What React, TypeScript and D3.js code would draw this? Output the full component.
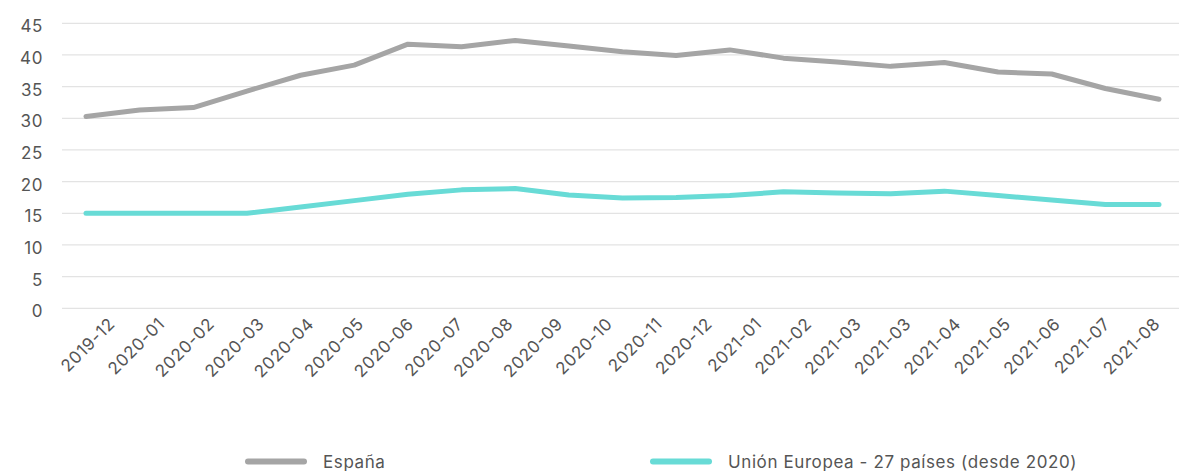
import * as d3 from "d3";

// x-axis labels (as printed on the chart, including the repeated 2021-03)
const labels = [
  "2019-12", "2020-01", "2020-02", "2020-03", "2020-04", "2020-05", "2020-06",
  "2020-07", "2020-08", "2020-09", "2020-10", "2020-11", "2020-12", "2021-01",
  "2021-02", "2021-03", "2021-03", "2021-04", "2021-05", "2021-06", "2021-07",
  "2021-08",
];

// series values (21 points each)
const espana = [
  30.3, 31.3, 31.7, 34.3, 36.8, 38.4, 41.7, 41.3, 42.3, 41.4, 40.5,
  39.9, 40.8, 39.5, 38.9, 38.2, 38.8, 37.3, 37.0, 34.7, 33.0,
];
const ue27 = [
  15.0, 15.0, 15.0, 15.0, 16.0, 17.0, 18.0, 18.7, 18.9, 17.9, 17.4,
  17.5, 17.8, 18.4, 18.2, 18.1, 18.5, 17.8, 17.1, 16.4, 16.4,
];

const yTicks = [0, 5, 10, 15, 20, 25, 30, 35, 40, 45];

const series = [
  { name: "España", values: espana, color: "#a5a5a5" },
  { name: "Unión Europea - 27 países (desde 2020)", values: ue27, color: "#68dbd6" },
];

const W = 1179;
const H = 471;
const font = "Inter, 'Open Sans', sans-serif";

export default function App() {
  const x = d3
    .scalePoint<number>()
    .domain(d3.range(espana.length))
    .range([86, 1159]);

  const xLab = d3
    .scalePoint<number>()
    .domain(d3.range(labels.length))
    .range([116, 1161]);

  const y = d3.scaleLinear().domain([0, 45]).range([308.3, 23.3]);

  const line = d3
    .line<number>()
    .x((_, i) => x(i) ?? 0)
    .y((d) => y(d));

  const legendX = [245, 650];

  return (
    <svg
      width={W}
      height={H}
      style={{ position: "absolute", left: 0, top: 0, background: "#fff" }}
      fontFamily={font}
      letterSpacing={0.6}
    >
      {/* grid + y labels */}
      {yTicks.map((t) => (
        <g key={t}>
          <line x1={62} x2={W} y1={y(t)} y2={y(t)} stroke="#e3e3e3" strokeWidth={1.2} />
          <text x={43} y={y(t) + 9} textAnchor="end" fontSize={17} fill="#555">
            {t}
          </text>
        </g>
      ))}

      {/* x labels */}
      {labels.map((l, i) => (
        <text
          key={i}
          transform={`translate(${xLab(i)},325) rotate(-45)`}
          textAnchor="end"
          fontSize={17}
          fill="#555"
        >
          {l}
        </text>
      ))}

      {/* lines */}
      {series.map((s) => (
        <path
          key={s.name}
          d={line(s.values) ?? ""}
          fill="none"
          stroke={s.color}
          strokeWidth={5}
          strokeLinejoin="round"
          strokeLinecap="round"
        />
      ))}

      {/* legend */}
      {series.map((s, i) => (
        <g key={s.name} transform={`translate(${legendX[i]},461.5)`}>
          <line x1={3} x2={59} y1={0} y2={0} stroke={s.color} strokeWidth={6} strokeLinecap="round" />
          <text x={78} y={6} fontSize={17} fill="#555">
            {s.name}
          </text>
        </g>
      ))}
    </svg>
  );
}
